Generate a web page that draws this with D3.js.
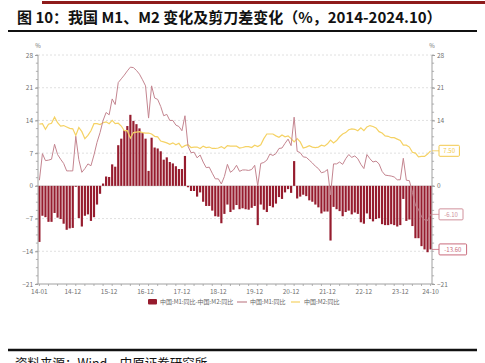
<!DOCTYPE html>
<html>
<head>
<meta charset="utf-8">
<script src="https://cdn.jsdelivr.net/npm/d3@7"></script>
<style>
  body { margin: 0; background: #fff; }
  svg { display: block; }
</style>
</head>
<body>
<script>
// ********************** DATA **************************************************************
// M1 yoy (%), 2014-01 .. 2024-10
var m1 = [
  1.2, 6.9, 5.4, 5.5, 5.7, 8.9, 6.7, 5.7, 4.8, 3.2, 3.2, 3.2,
  10.6, 5.6, 2.9, 3.7, 4.7, 4.3, 6.6, 9.3, 11.4, 14.0, 15.7, 15.2,
  18.6, 17.4, 22.1, 22.9, 23.7, 24.6, 25.4, 25.3, 24.7, 23.9, 22.7, 21.4,
  14.5, 21.4, 18.8, 18.5, 17.0, 15.0, 15.3, 14.0, 14.0, 13.0, 12.7, 11.8,
  15.0, 8.5, 7.1, 7.2, 6.0, 6.6, 5.1, 3.9, 4.0, 2.7, 1.5, 1.5,
  0.4, 2.0, 4.6, 2.9, 3.4, 4.4, 3.1, 3.4, 3.4, 3.3, 3.5, 4.4,
  0.0, 4.8, 5.0, 5.5, 6.8, 6.5, 6.9, 8.0, 8.1, 9.1, 10.0, 8.6,
  14.7, 7.4, 7.1, 6.2, 6.1, 5.5, 4.9, 4.2, 3.7, 2.8, 3.0, 3.5,
  -1.9, 4.7, 4.7, 5.1, 4.6, 5.8, 6.7, 6.1, 6.4, 5.8, 4.6, 3.7,
  6.7, 5.8, 5.1, 5.3, 4.7, 3.1, 2.3, 2.2, 2.1, 1.9, 1.3, 1.3,
  5.9, 1.2, 1.1, -1.4, -4.2, -5.0, -6.6, -7.3, -7.4, -6.1
];

// M2 yoy (%)
var m2 = [
  13.2, 13.3, 12.1, 13.2, 13.4, 14.7, 13.5, 12.8, 12.9, 12.6, 12.3, 12.2,
  10.8, 12.5, 11.6, 10.1, 10.8, 11.8, 13.3, 13.3, 13.1, 13.5, 13.7, 13.3,
  14.0, 13.3, 13.4, 12.8, 11.8, 11.8, 10.2, 11.4, 11.5, 11.6, 11.4, 11.3,
  11.3, 11.1, 10.6, 10.5, 9.6, 9.4, 9.2, 8.9, 9.2, 8.8, 9.1, 8.2,
  8.6, 8.8, 8.2, 8.3, 8.3, 8.0, 8.5, 8.2, 8.3, 8.0, 8.0, 8.1,
  8.4, 8.0, 8.6, 8.5, 8.5, 8.5, 8.1, 8.2, 8.4, 8.4, 8.2, 8.7,
  8.4, 8.8, 10.1, 11.1, 11.1, 11.1, 10.7, 10.4, 10.9, 10.5, 10.7, 10.1,
  9.4, 10.1, 9.4, 8.1, 8.3, 8.6, 8.3, 8.2, 8.3, 8.7, 8.5, 9.0,
  9.8, 9.2, 9.7, 10.5, 11.1, 11.4, 12.0, 12.2, 12.1, 11.8, 12.4, 11.8,
  12.6, 12.9, 12.7, 12.4, 11.6, 11.3, 10.7, 10.6, 10.3, 10.3, 10.0, 9.7,
  8.7, 8.7, 8.3, 7.2, 7.0, 6.2, 6.3, 6.3, 6.8, 7.5
];

// M1 - M2 scissors gap (%)
var gap = [
  -12.0, -6.4, -6.7, -7.7, -7.7, -5.8, -6.8, -7.1, -8.1, -9.4, -9.1, -9.0,
  -0.2, -6.9, -8.7, -6.4, -6.1, -7.5, -6.7, -4.0, -1.7, 0.5, 2.0, 1.9,
  4.6, 4.1, 8.7, 10.1, 11.9, 12.8, 15.2, 13.9, 13.2, 12.3, 11.3, 10.1,
  3.2, 10.3, 8.2, 8.0, 7.4, 5.6, 6.1, 5.1, 4.8, 4.2, 3.6, 3.6,
  6.4, -0.3, -1.1, -1.1, -2.3, -1.4, -3.4, -4.3, -4.3, -5.3, -6.5, -6.6,
  -8.0, -6.0, -4.0, -5.6, -5.1, -4.1, -5.0, -4.8, -5.0, -5.1, -4.7, -4.3,
  -8.4, -4.0, -5.1, -5.6, -4.3, -4.6, -3.8, -2.4, -2.8, -1.4, -0.7, -1.5,
  5.3, -2.7, -2.3, -1.9, -2.2, -3.1, -3.4, -4.0, -4.6, -5.9, -5.5, -5.5,
  -11.7, -4.5, -5.0, -5.4, -6.5, -5.6, -5.3, -6.1, -5.7, -6.0, -7.8, -8.1,
  -5.9, -7.1, -7.6, -7.1, -6.9, -8.2, -8.4, -8.4, -8.2, -8.4, -8.7, -8.4,
  -2.8, -7.5, -7.2, -8.6, -11.2, -11.2, -12.9, -13.6, -14.2, -13.6
];

// month categories 14-01 .. 24-10
var months = d3.timeMonth.range(new Date(2014, 0, 1), new Date(2024, 10, 1))
  .map(d3.timeFormat("%y-%m"));

// x tick labels shown
var xLabels = ["14-01", "14-12", "15-12", "16-12", "17-12", "18-12", "19-12",
  "20-12", "21-12", "22-12", "23-12", "24-10"];
var yTicks = [-21, -14, -7, 0, 7, 14, 21, 28];
// right axis labels left visible (the others sit under the end-value boxes)
var yTicksRight = [-21, 0, 14, 21, 28];

var legendNames = ["中国:M1:同比-中国:M2:同比", "中国:M1:同比", "中国:M2:同比"];

// ********************** SETUP **************************************************************
var W = 485, H = 363;
var plotL = 38, plotR = 432, plotT = 55, plotB = 284;

var barColor = "#961c2e";
var m1Color = "#c48590";
var m2Color = "#f5d264";
var axisColor = "#a0a0a0";
var textColor = "#707070";
var font = "'Noto Sans CJK SC', 'Noto Sans', sans-serif";

var svg = d3.select("body").append("svg")
  .attr("width", W)
  .attr("height", H);

var x = d3.scaleBand()
  .domain(months)
  .range([plotL, plotR])
  .paddingInner(0.28)
  .paddingOuter(0.1);

var y = d3.scaleLinear()
  .domain([-21, 28])
  .range([plotB, plotT]);

var xc = function(m) { return x(m) + x.bandwidth() / 2; };

// ********************** TITLE ************************************************************
svg.append("line")
  .attr("x1", 42).attr("x2", W)
  .attr("y1", 2.5).attr("y2", 2.5)
  .attr("stroke", "#8e1b1b")
  .attr("stroke-width", 3);

svg.append("text")
  .attr("x", 17)
  .attr("y", 23)
  .text("图 10：我国 M1、M2 变化及剪刀差变化（%，2014-2024.10）")
  .style("font-size", "15px")
  .style("font-weight", "bold")
  .style("font-family", font)
  .style("fill", "#111");

svg.append("line")
  .attr("x1", 8).attr("x2", 477)
  .attr("y1", 31).attr("y2", 31)
  .attr("stroke", "#111")
  .attr("stroke-width", 2);

// ********************** GRID *************************************************************
svg.append("g")
  .selectAll("line")
  .data(yTicks.filter(function(d) { return d !== -21 && d !== 0; }))
  .enter().append("line")
  .attr("x1", plotL).attr("x2", plotR)
  .attr("y1", function(d) { return y(d); })
  .attr("y2", function(d) { return y(d); })
  .attr("stroke", "#d8d8d8")
  .attr("stroke-width", 0.8)
  .attr("stroke-dasharray", "2,2");

svg.append("line")
  .attr("x1", plotL).attr("x2", plotR)
  .attr("y1", y(0)).attr("y2", y(0))
  .attr("stroke", "#cfcfcf")
  .attr("stroke-width", 0.8);

// ********************** BARS *************************************************************
svg.append("g")
  .selectAll("rect")
  .data(gap)
  .enter().append("rect")
  .attr("x", function(d, i) { return x(months[i]); })
  .attr("y", function(d) { return y(Math.max(0, d)); })
  .attr("width", x.bandwidth())
  .attr("height", function(d) { return Math.abs(y(d) - y(0)); })
  .attr("fill", barColor);

// ********************** LINES ************************************************************
var line = d3.line()
  .x(function(d, i) { return xc(months[i]); })
  .y(function(d) { return y(d); });

svg.append("path")
  .datum(m2)
  .attr("d", line)
  .attr("fill", "none")
  .attr("stroke", m2Color)
  .attr("stroke-width", 1.2);

svg.append("path")
  .datum(m1)
  .attr("d", line)
  .attr("fill", "none")
  .attr("stroke", m1Color)
  .attr("stroke-width", 1);

// ********************** AXES *************************************************************
var minorY = d3.range(-21, 28.01, 1.75);

var yLeft = d3.axisLeft(y).tickValues(yTicks).tickSize(3).tickPadding(2);
var yRight = d3.axisRight(y).tickValues(yTicksRight).tickSize(3).tickPadding(2);

function styleAxis(g) {
  g.select(".domain").attr("stroke", axisColor);
  g.selectAll(".tick line").attr("stroke", axisColor);
  g.selectAll(".tick text")
    .style("font-size", "6.5px")
    .style("font-family", font)
    .style("fill", textColor);
}

var gl = svg.append("g")
  .attr("transform", "translate(" + plotL + ",0)")
  .call(yLeft)
  .call(styleAxis);
gl.select(".domain").attr("d", "M0," + plotB + "V" + plotT);

var gr = svg.append("g")
  .attr("transform", "translate(" + plotR + ",0)")
  .call(yRight)
  .call(styleAxis);
gr.select(".domain").attr("d", "M0," + plotB + "V" + plotT);

// minor y ticks
[[plotL, -3], [plotR, 3]].forEach(function(s) {
  svg.append("g")
    .selectAll("line")
    .data(minorY)
    .enter().append("line")
    .attr("x1", s[0]).attr("x2", s[0] + s[1] * 0.7)
    .attr("y1", function(d) { return y(d); })
    .attr("y2", function(d) { return y(d); })
    .attr("stroke", axisColor)
    .attr("stroke-width", 0.8);
});

// % units
[plotL, plotR].forEach(function(px) {
  svg.append("text")
    .attr("x", px)
    .attr("y", 48)
    .attr("text-anchor", "middle")
    .text("%")
    .style("font-size", "6px")
    .style("font-family", font)
    .style("fill", textColor);
});

// x axis
var gx = svg.append("g")
  .attr("transform", "translate(0," + plotB + ")");

gx.append("line")
  .attr("x1", plotL).attr("x2", plotR)
  .attr("stroke", axisColor);

gx.selectAll(".minor")
  .data(months.filter(function(d, i) { return i % 3 === 0; }))
  .enter().append("line")
  .attr("x1", xc).attr("x2", xc)
  .attr("y1", 0).attr("y2", 2)
  .attr("stroke", axisColor)
  .attr("stroke-width", 0.8);

gx.selectAll(".lbl")
  .data(xLabels)
  .enter().append("text")
  .attr("x", xc)
  .attr("y", 10)
  .attr("text-anchor", "middle")
  .text(function(d) { return d; })
  .style("font-size", "6.5px")
  .style("font-family", font)
  .style("fill", textColor);

// ********************** END LABELS *******************************************************
var endLabels = [
  { v: m2[m2.length - 1], c: "#f2c94c" },
  { v: m1[m1.length - 1], c: "#d0909b" },
  { v: gap[gap.length - 1], c: "#c96b7c" }
];

endLabels.forEach(function(e) {
  var txt = e.v.toFixed(2);
  var bw = txt.length * 3.6 + 6;
  var g = svg.append("g")
    .attr("transform", "translate(" + (plotR + 7) + "," + y(e.v) + ")");
  g.append("line")
    .attr("x1", -7).attr("x2", 0)
    .attr("stroke", e.c).attr("stroke-width", 0.8);
  g.append("rect")
    .attr("x", 0).attr("y", -5.5)
    .attr("width", bw).attr("height", 11)
    .attr("rx", 1)
    .attr("fill", "#fff")
    .attr("stroke", e.c)
    .attr("stroke-width", 1);
  g.append("text")
    .attr("x", bw / 2).attr("y", 2.2)
    .attr("text-anchor", "middle")
    .text(txt)
    .style("font-size", "6px")
    .style("font-family", font)
    .style("fill", e.c);
});

// ********************** LEGEND ***********************************************************
var lg = svg.append("g").attr("transform", "translate(0,302)");
lg.append("rect")
  .attr("x", 148).attr("y", -3)
  .attr("width", 9).attr("height", 5.5)
  .attr("rx", 1)
  .attr("fill", barColor);
lg.append("line")
  .attr("x1", 237).attr("x2", 247)
  .attr("stroke", m1Color).attr("stroke-width", 1.2);
lg.append("line")
  .attr("x1", 291).attr("x2", 300)
  .attr("stroke", m2Color).attr("stroke-width", 1.2);

var legendX = [160, 250, 304];
lg.selectAll("text")
  .data(legendNames)
  .enter().append("text")
  .attr("x", function(d, i) { return legendX[i]; })
  .attr("y", 2.2)
  .text(function(d) { return d; })
  .style("font-size", "6px")
  .style("font-family", font)
  .style("fill", "#666");

// ********************** SOURCE ***********************************************************
svg.append("line")
  .attr("x1", 8).attr("x2", 477)
  .attr("y1", 350).attr("y2", 350)
  .attr("stroke", "#111")
  .attr("stroke-width", 2.5);

svg.append("text")
  .attr("x", 15)
  .attr("y", 368)
  .text("资料来源：Wind，中原证券研究所")
  .style("font-size", "12.5px")
  .style("font-family", font)
  .style("fill", "#111");
</script>
</body>
</html>
